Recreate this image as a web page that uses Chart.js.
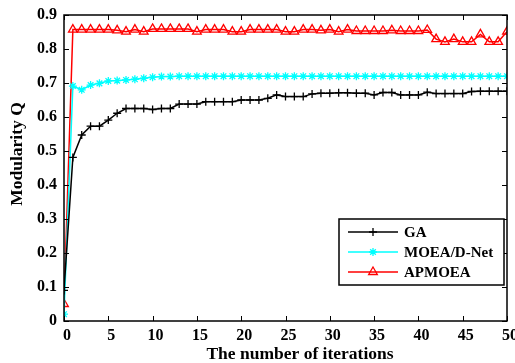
<!DOCTYPE html>
<html>
<head>
<meta charset="utf-8">
<script src="https://cdn.jsdelivr.net/npm/chart.js@4/dist/chart.umd.min.js"></script>
<style>
  html, body { margin: 0; padding: 0; background: #fff; }
  canvas { display: block; }
</style>
</head>
<body>
<canvas id="c" width="515" height="363"></canvas>
<script>
// Iteration index on the x axis
const iterations = [0, 1, 2, 3, 4, 5, 6, 7, 8, 9, 10, 11, 12, 13, 14, 15, 16, 17, 18, 19, 20,
  21, 22, 23, 24, 25, 26, 27, 28, 29, 30, 31, 32, 33, 34, 35, 36, 37, 38, 39, 40,
  41, 42, 43, 44, 45, 46, 47, 48, 49, 50];

// Modularity Q per iteration for each algorithm
const gaQ = [0.09, 0.481, 0.547, 0.573, 0.573, 0.591, 0.611, 0.625, 0.625, 0.625, 0.622,
  0.625, 0.625, 0.638, 0.638, 0.638, 0.645, 0.645, 0.645, 0.645, 0.650,
  0.650, 0.650, 0.655, 0.665, 0.660, 0.660, 0.660, 0.668, 0.670, 0.670,
  0.671, 0.671, 0.670, 0.670, 0.665, 0.672, 0.672, 0.665, 0.665, 0.665,
  0.673, 0.669, 0.669, 0.669, 0.669, 0.675, 0.676, 0.676, 0.676, 0.676];

const moeadQ = [0.02, 0.691, 0.680, 0.694, 0.699, 0.706, 0.707, 0.709, 0.711, 0.714, 0.717,
  0.719, 0.719, 0.720, 0.720, 0.720, 0.720, 0.720, 0.720, 0.720, 0.720,
  0.720, 0.720, 0.720, 0.720, 0.720, 0.720, 0.720, 0.720, 0.720, 0.720,
  0.720, 0.720, 0.720, 0.720, 0.720, 0.720, 0.720, 0.720, 0.720, 0.720,
  0.720, 0.720, 0.720, 0.720, 0.720, 0.720, 0.720, 0.720, 0.720, 0.720];

const apmoeaQ = [0.05, 0.857, 0.857, 0.857, 0.857, 0.857, 0.855, 0.851, 0.857, 0.851, 0.859,
  0.859, 0.859, 0.859, 0.859, 0.851, 0.857, 0.857, 0.857, 0.851, 0.851,
  0.857, 0.857, 0.857, 0.857, 0.851, 0.851, 0.857, 0.857, 0.855, 0.857,
  0.851, 0.857, 0.853, 0.853, 0.853, 0.853, 0.855, 0.853, 0.853, 0.853,
  0.856, 0.829, 0.821, 0.829, 0.821, 0.821, 0.843, 0.821, 0.821, 0.851];

const seriesNames = ['GA', 'MOEA/D-Net', 'APMOEA'];

const xTicks = [0, 5, 10, 15, 20, 25, 30, 35, 40, 45, 50];
const yTicks = [0, 0.1, 0.2, 0.3, 0.4, 0.5, 0.6, 0.7, 0.8, 0.9];

const SERIF = "'Liberation Serif', 'Times New Roman', serif";

function pts(values) {
  return iterations.map((x, i) => ({ x: x, y: values[i] }));
}

// Box around the plot with inward tick marks on all four sides
const frameTicks = {
  id: 'frameTicks',
  afterDatasetsDraw(chart) {
    const { ctx, chartArea: a, scales } = chart;
    const len = 5;
    ctx.save();
    ctx.strokeStyle = '#000';
    ctx.lineWidth = 1.5;
    ctx.strokeRect(a.left, a.top, a.right - a.left, a.bottom - a.top);
    ctx.lineWidth = 1;
    ctx.beginPath();
    xTicks.forEach(v => {
      const px = Math.round(scales.x.getPixelForValue(v)) + 0.5;
      ctx.moveTo(px, a.bottom); ctx.lineTo(px, a.bottom - len);
      ctx.moveTo(px, a.top); ctx.lineTo(px, a.top + len);
    });
    yTicks.forEach(v => {
      const py = Math.round(scales.y.getPixelForValue(v)) + 0.5;
      ctx.moveTo(a.left, py); ctx.lineTo(a.left + len, py);
      ctx.moveTo(a.right, py); ctx.lineTo(a.right - len, py);
    });
    ctx.stroke();
    ctx.restore();
  }
};

// Axis titles
const axisTitles = {
  id: 'axisTitles',
  afterDraw(chart) {
    const { ctx, chartArea: a } = chart;
    ctx.save();
    ctx.fillStyle = '#000';
    ctx.font = 'bold 17.5px ' + SERIF;
    ctx.textAlign = 'center';
    ctx.textBaseline = 'middle';
    ctx.fillText('The number of iterations', 300, 354);
    ctx.translate(17, 154);
    ctx.rotate(-Math.PI / 2);
    ctx.fillText('Modularity Q', 0, 0);
    ctx.restore();
  }
};

// Legend box inside the plot, lower right
const boxLegend = {
  id: 'boxLegend',
  afterDraw(chart) {
    const { ctx } = chart;
    const x0 = 339, y0 = 219, w = 165, h = 66;
    ctx.save();
    ctx.fillStyle = '#fff';
    ctx.fillRect(x0, y0, w, h);
    ctx.strokeStyle = '#000';
    ctx.lineWidth = 1.5;
    ctx.strokeRect(x0, y0, w, h);
    chart.data.datasets.forEach((ds, i) => {
      const y = y0 + 13 + i * 20;
      ctx.strokeStyle = ds.borderColor;
      ctx.lineWidth = ds.borderWidth;
      ctx.beginPath();
      ctx.moveTo(348, y); ctx.lineTo(398, y);
      ctx.stroke();
      ctx.fillStyle = 'rgba(0,0,0,0)';
      ctx.strokeStyle = ds.pointBorderColor;
      ctx.lineWidth = ds.pointBorderWidth;
      Chart.helpers.drawPoint(ctx, {
        pointStyle: ds.pointStyle,
        radius: ds.pointRadius,
        rotation: 0,
        borderWidth: ds.pointBorderWidth
      }, 373, y);
      ctx.fillStyle = '#000';
      ctx.font = 'bold 15px ' + SERIF;
      ctx.textAlign = 'left';
      ctx.textBaseline = 'middle';
      ctx.fillText(ds.label, 404, y + 1);
    });
    ctx.restore();
  }
};

function lineSet(label, values, color, style, radius, width) {
  return {
    label: label,
    data: pts(values),
    borderColor: color,
    backgroundColor: 'rgba(0,0,0,0)',
    pointBorderColor: color,
    pointBackgroundColor: 'rgba(0,0,0,0)',
    borderWidth: width,
    pointStyle: style,
    pointRadius: radius,
    pointBorderWidth: 1.3,
    tension: 0,
    fill: false
  };
}

new Chart(document.getElementById('c'), {
  type: 'line',
  data: {
    datasets: [
      lineSet(seriesNames[0], gaQ, '#000000', 'cross', 4, 1.5),
      lineSet(seriesNames[1], moeadQ, '#00ffff', 'star', 4, 1.5),
      lineSet(seriesNames[2], apmoeaQ, '#ff0000', 'triangle', 5, 1.5)
    ]
  },
  options: {
    responsive: false,
    animation: false,
    events: [],
    layout: { padding: { top: 15, right: 8, left: 0, bottom: 0 } },
    plugins: { legend: { display: false }, tooltip: { enabled: false } },
    scales: {
      x: {
        type: 'linear',
        min: 0, max: 50,
        afterFit(s) { s.height = 42; s.paddingLeft = 0; s.paddingRight = 0; },
        afterBuildTicks(s) { s.ticks = xTicks.map(v => ({ value: v })); },
        grid: { display: false, drawTicks: false },
        border: { display: false },
        ticks: {
          color: '#000',
          font: { family: SERIF, size: 16, weight: 'bold' },
          padding: 5,
          maxRotation: 0,
          labelOffset: 3,
          callback: v => String(v)
        }
      },
      y: {
        type: 'linear',
        min: 0, max: 0.9,
        afterFit(s) { s.width = 64; s.paddingTop = 0; s.paddingBottom = 0; },
        afterBuildTicks(s) { s.ticks = yTicks.map(v => ({ value: v })); },
        grid: { display: false, drawTicks: false },
        border: { display: false },
        ticks: {
          color: '#000',
          font: { family: SERIF, size: 16, weight: 'bold' },
          padding: 7,
          callback: v => (v === 0 ? '0' : Number(v).toFixed(1))
        }
      }
    }
  },
  plugins: [frameTicks, axisTitles, boxLegend]
});
</script>
</body>
</html>
